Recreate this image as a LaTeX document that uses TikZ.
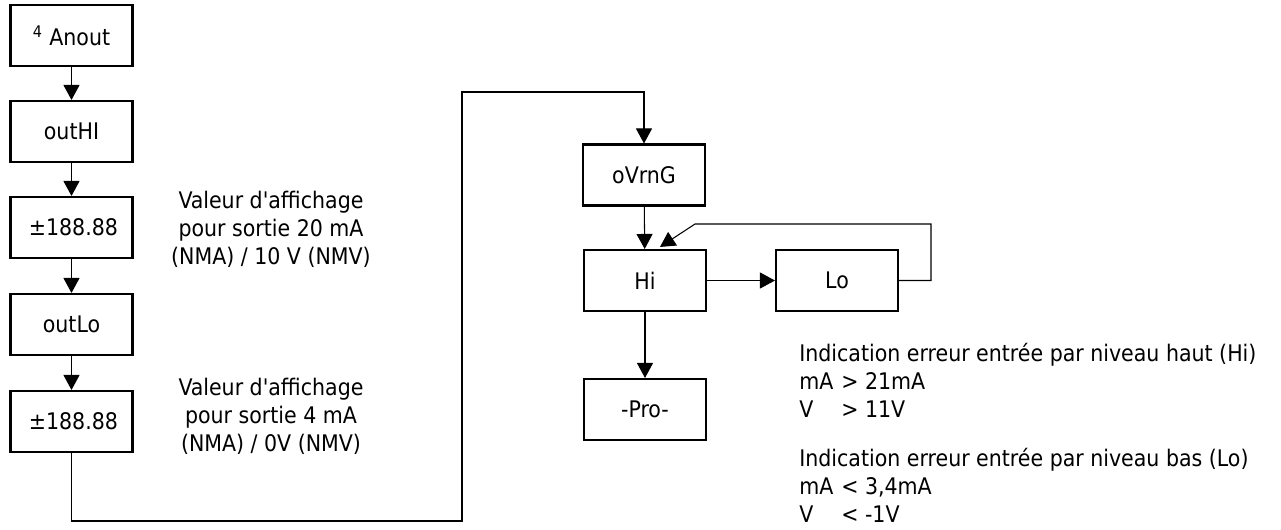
\documentclass[tikz,border=0pt]{standalone}
\usepackage{fontspec}
\setmainfont{DejaVu Sans Condensed}[Ligatures=TeXOff]
\usetikzlibrary{arrows.meta, calc}

\begin{document}
\begin{tikzpicture}[
    x=0.02cm, y=-0.02cm,
    every node/.style={font=\fontsize{13}{15.9}\selectfont},
    box/.style={draw, line width=1.2pt, minimum width=2.44cm, minimum height=1.22cm,
                inner sep=2pt, align=center},
    note/.style={align=center, inner sep=0pt},
    arr/.style={-{Triangle[length=0.3cm, width=0.32cm]}, line width=0.6pt}
]
    \useasboundingbox (0,0) rectangle (1281,529);

    % Left column: analog output settings
    \node[box] (anout) at (71.5, 35.5)  {\textsuperscript{4} Anout};
    \node[box] (outhi) at (71.5, 131.5) {outHI};
    \node[box] (dhi)   at (71.5, 227.5) {\,±188.88};
    \node[box] (outlo) at (71.5, 324.5) {outLo};
    \node[box] (dlo)   at (71.5, 421.5) {\,±188.88};

    \draw[arr] (anout) -- (outhi);
    \draw[arr] (outhi) -- (dhi);
    \draw[arr] (dhi) -- (outlo);
    \draw[arr] (outlo) -- (dlo);

    % Notes beside the display values
    \node[note] (nhi) at (271, 229) {Valeur d'affichage\\pour sortie 20 mA\\(NMA) / 10 V (NMV)};
    \node[note] (nlo) at (271, 416) {Valeur d'affichage\\pour sortie 4 mA\\(NMA) / 0V (NMV)};

    % Right column: error indication
    \node[box] (ovrng) at (644, 175)   {oVrnG};
    \node[box] (hi)    at (645, 280.5) {Hi};
    \node[box] (lo)    at (837, 280.5) {Lo};
    \node[box] (pro)   at (645, 409.5) {-Pro-};

    \coordinate (bl) at (462, 521);
    \coordinate (tl) at (462, 92);
    \draw[arr] (dlo.south) |- (bl) -- (tl) -| (ovrng.north);

    \draw[arr] (ovrng) -- (hi);
    \draw[arr] (hi) -- (lo);
    \draw[arr] (hi) -- (pro);

    \coordinate (rt) at (931, 224);
    \coordinate (kink) at (695, 224);
    \draw[arr] (lo.east) -| (rt) -- (kink) -- ($(hi.north)+(15,-2)$);

    % Error limits
    \node[anchor=north west, inner sep=0pt] (err) at (799, 342)
        {\begin{tabular}{@{}p{0.84cm}@{}l@{}}
         \multicolumn{2}{@{}l@{}}{Indication erreur entrée par niveau haut (Hi)}\\
         mA & > 21mA\\
         V  & > 11V\\[12pt]
         \multicolumn{2}{@{}l@{}}{Indication erreur entrée par niveau bas (Lo)}\\
         mA & < 3,4mA\\
         V  & < -1V
         \end{tabular}};
\end{tikzpicture}
\end{document}
